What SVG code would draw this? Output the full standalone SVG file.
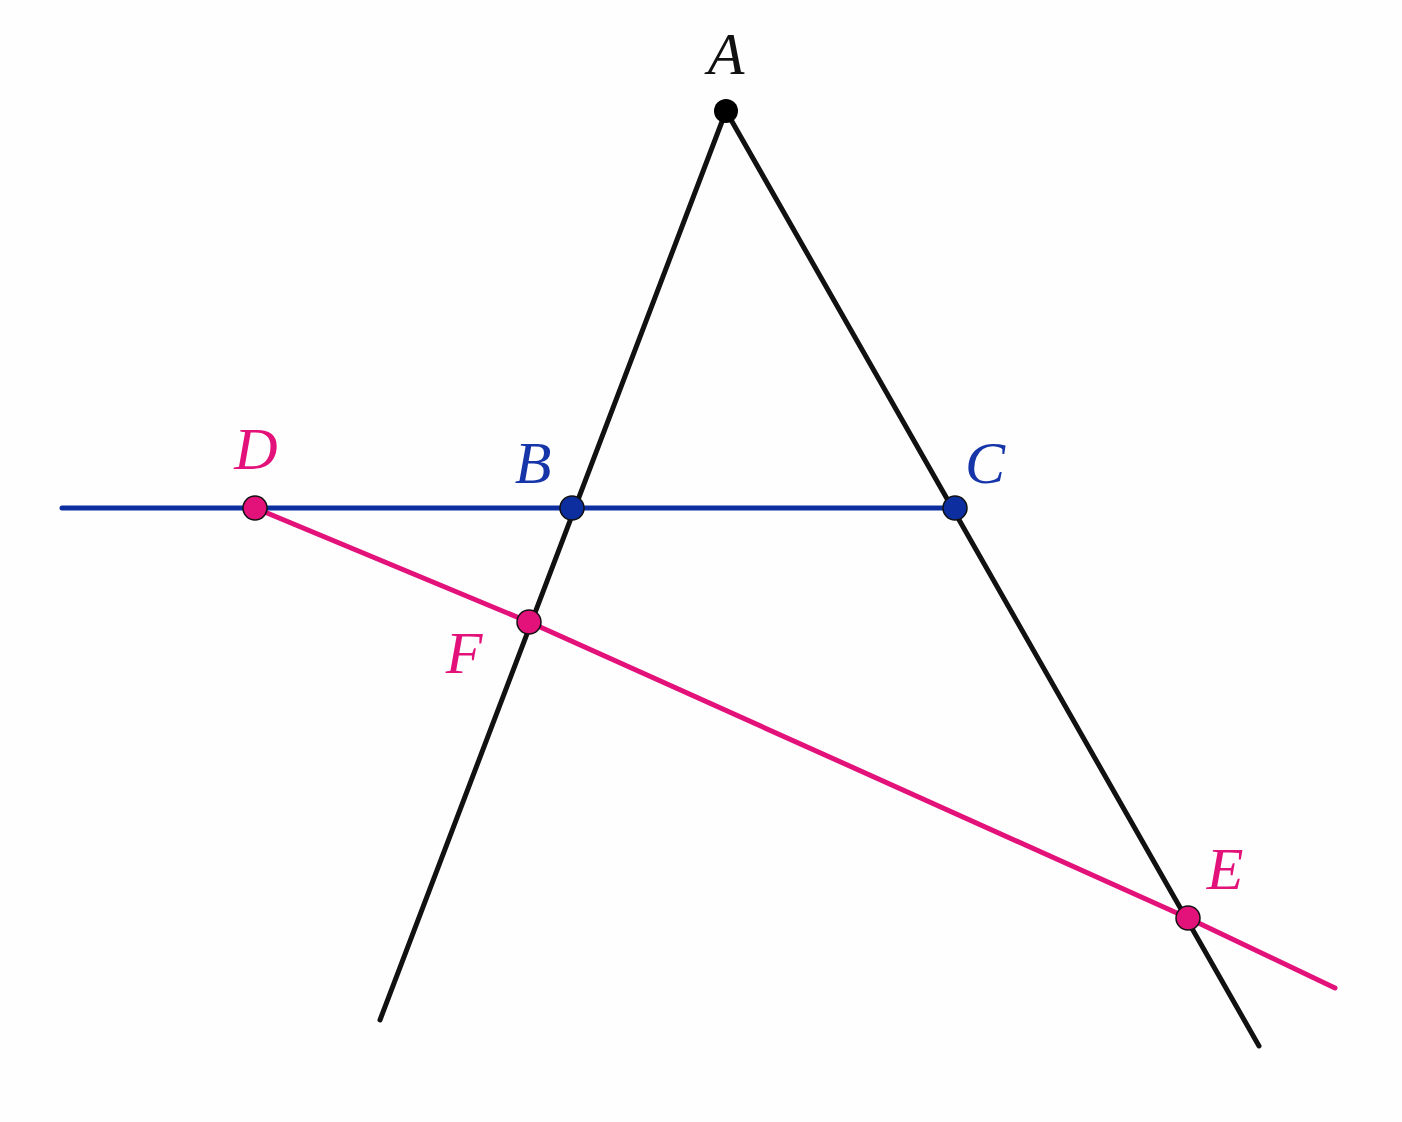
<svg xmlns="http://www.w3.org/2000/svg" width="1402" height="1122" viewBox="0 0 1402 1122">
<style>
.bk{stroke:#111;stroke-width:5;fill:none;stroke-linecap:round;stroke-linejoin:round}
.bl{stroke:#0C2E9E;stroke-width:5;fill:none;stroke-linecap:round}
.pk{stroke:#E3117A;stroke-width:5;fill:none;stroke-linecap:round;stroke-linejoin:round}
.pt{stroke:#111;stroke-width:1.5}
.lbl{font-family:"Liberation Serif","DejaVu Serif",serif;font-style:italic;font-size:60px;text-anchor:middle}
</style>
<rect width="1402" height="1122" fill="#fefefe"/>
<g id="connectors">
<line class="bk" x1="726" y1="111" x2="380" y2="1020"/>
<line class="bk" x1="726" y1="111" x2="1259" y2="1046"/>
<line class="bl" x1="62" y1="508" x2="955" y2="508"/>
<polyline class="pk" points="255,508 529,622 1188,918 1335,988"/>
</g>
<g id="A"><circle cx="726" cy="111" r="12" fill="#000"/><text class="lbl" x="726" y="74" fill="#111">A</text></g>
<g id="B"><circle class="pt" cx="572" cy="508" r="12" fill="#0C2E9E"/><text class="lbl" x="533" y="483" fill="#1535A8">B</text></g>
<g id="C"><circle class="pt" cx="955" cy="508" r="12" fill="#0C2E9E"/><text class="lbl" x="985" y="483" fill="#1535A8">C</text></g>
<g id="D"><circle class="pt" cx="255" cy="508" r="12" fill="#E3117A"/><text class="lbl" x="256" y="469" fill="#E3117A">D</text></g>
<g id="F"><circle class="pt" cx="529" cy="622" r="12" fill="#E3117A"/><text class="lbl" x="464" y="673" fill="#E3117A">F</text></g>
<g id="E"><circle class="pt" cx="1188" cy="918" r="12" fill="#E3117A"/><text class="lbl" x="1225" y="889" fill="#E3117A">E</text></g>
</svg>
